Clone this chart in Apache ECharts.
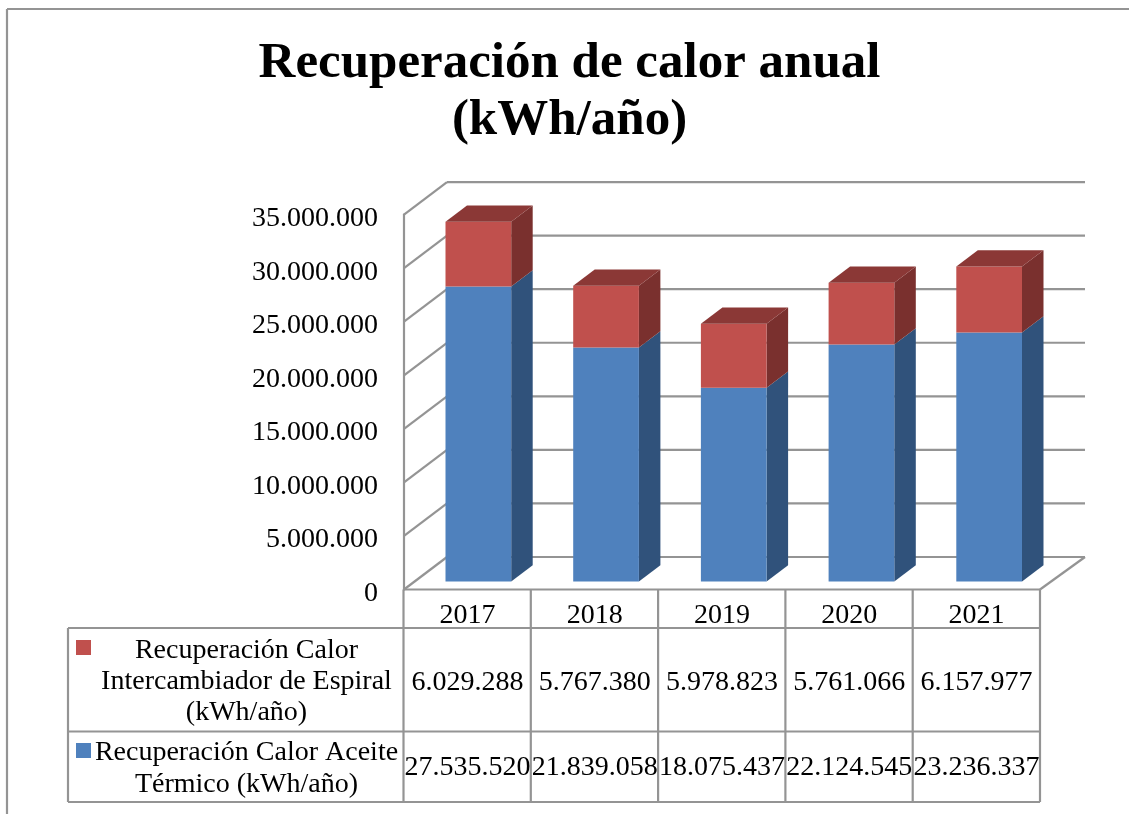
<!DOCTYPE html>
<html><head><meta charset="utf-8">
<style>html,body{margin:0;padding:0;background:#fff}#c{width:1129px;height:814px}</style>
<script src="https://cdn.jsdelivr.net/npm/echarts@6/dist/echarts.min.js"></script>
</head><body><div id="c"></div>
<script>
const categories = ['2017','2018','2019','2020','2021'];
const aceite = [27535520,21839058,18075437,22124545,23236337];
const espiral = [6029288,5767380,5978823,5761066,6157977];
const ticks = [0,5000000,10000000,15000000,20000000,25000000,30000000,35000000];
const titleLines = ['Recuperación de calor anual','(kWh/año)'];
const espiralLabel = ['Recuperación Calor','Intercambiador de Espiral','(kWh/año)'];
const aceiteLabel = ['Recuperación Calor Aceite','Térmico (kWh/año)'];

const FONT = '"Liberation Serif", serif';
const GRID = '#949494';
const DX = 43, DY = -32.5, DXR = 45;
const L = 404, R = 1040, T = 214.6, B = 589.5;
const fmt = v => String(v).replace(/\B(?=(\d{3})+(?!\d))/g,'.');
const line = (x1,y1,x2,y2,w) => ({type:'line',shape:{x1,y1,x2,y2},style:{stroke:GRID,lineWidth:w||2.2},silent:true});
const text = (t,x,y,size,weight) => ({type:'text',x,y,silent:true,style:{text:t,fill:'#000',font:(weight||'normal')+' '+size+'px '+FONT,textAlign:'center',textVerticalAlign:'middle'}});

function wallItem(params, api){
  const y = api.coord([0, api.value(0)])[1];
  const cs = params.coordSys;
  const x0 = cs.x, x1 = cs.x + cs.width;
  const kids = [
    line(x0, y, x0+DX, y+DY),
    line(x0+DX, y+DY, x1+DXR, y+DY)
  ];
  if (api.value(0) === 0) kids.push(line(x1, y, x1+DXR, y+DY));
  return {type:'group', children:kids};
}
function barItem(front, side, top){
  return function(params, api){
    const cat = api.value(0);
    const c0 = api.coord([cat, api.value(1)]);
    const c1 = api.coord([cat, api.value(2)]);
    const bw = api.size([1,0])[0] * 0.5165;
    const ox = DX*0.25 + cat*0.5, oy = DY*0.25, dx = DX*0.5, dy = DY*0.5;
    const x0 = c0[0]-bw/2+ox, x1 = x0+bw, y0 = c0[1]+oy, y1 = c1[1]+oy;
    const poly = (pts,fill)=>({type:'polygon',shape:{points:pts},style:{fill}});
    const kids = [
      poly([[x1,y0],[x1+dx,y0+dy],[x1+dx,y1+dy],[x1,y1]],side),
      poly([[x0,y0],[x1,y0],[x1,y1],[x0,y1]],front)
    ];
    if (top) kids.push(poly([[x0,y1],[x1,y1],[x1+dx,y1+dy],[x0+dx,y1+dy]],top));
    return {type:'group',children:kids};
  };
}
const blueData = categories.map((c,i)=>[i,0,aceite[i]]);
const redData = categories.map((c,i)=>[i,aceite[i],aceite[i]+espiral[i]]);

const colX = categories.map((c,i)=>L+(R-L)*(i+0.5)/categories.length);
const g = [];
// outer frame
g.push(line(7,9,1129,9), line(7,9,7,814));
// table
[628,731.5,802].forEach(y=>g.push(line(68,y,R,y)));
g.push(line(68,628,68,802));
categories.forEach((c,i)=>{ const x=L-0.5+(R-L+0.5)*i/categories.length; g.push(line(x,B,x,802)); });
g.push(line(R,B,R,802));
g.push(line(L,B,R,B));
categories.forEach((c,i)=>{
  g.push(text(fmt(espiral[i]),colX[i],682.5,28));
  g.push(text(fmt(aceite[i]),colX[i],768,28));
});
espiralLabel.forEach((t,i)=>g.push(text(t,246.5,651+i*31,28)));
aceiteLabel.forEach((t,i)=>g.push(text(t,246.5,752.5+i*32,28)));
g.push({type:'rect',shape:{x:76,y:640,width:15,height:15},style:{fill:'#c0504d'}});
g.push({type:'rect',shape:{x:76,y:743,width:15,height:15},style:{fill:'#4f81bd'}});
titleLines.forEach((t,i)=>g.push(text(t,569.5,64+i*57,51,'bold')));

const chart = echarts.init(document.getElementById('c'),null,{renderer:'canvas'});
chart.setOption({
  animation:false,
  backgroundColor:'#fff',
  grid:{left:L,top:T,width:R-L,height:B-T,containLabel:false},
  xAxis:{type:'category',data:categories,axisLine:{show:false},axisTick:{show:false},
    axisLabel:{color:'#000',fontFamily:FONT,fontSize:28,margin:12,interval:0}},
  yAxis:{type:'value',min:0,max:35000000,interval:5000000,
    axisLine:{show:true,lineStyle:{color:GRID,width:2.2}},axisTick:{show:false},splitLine:{show:false},
    axisLabel:{color:'#000',fontFamily:FONT,fontSize:28,margin:26,verticalAlign:'top',lineHeight:8,formatter:v=>fmt(v)}},
  graphic:{elements:g},
  series:[
    {type:'custom',name:'walls',coordinateSystem:'cartesian2d',data:ticks.map(t=>[t]),encode:{y:0},renderItem:wallItem,silent:true,clip:false,z:1},
    {type:'custom',name:'Recuperación Calor Aceite Térmico (kWh/año)',data:blueData,encode:{x:0,y:[1,2]},renderItem:barItem('#4f81bd','#30527b'),clip:false,z:3},
    {type:'custom',name:'Recuperación Calor Intercambiador de Espiral (kWh/año)',data:redData,encode:{x:0,y:[1,2]},renderItem:barItem('#c0504d','#7a302e','#8b3836'),clip:false,z:4}
  ]
});
</script></body></html>
